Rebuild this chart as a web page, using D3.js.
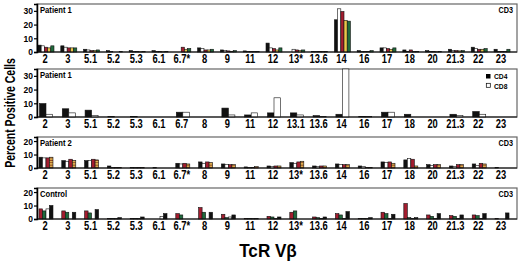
<!DOCTYPE html>
<html><head><meta charset="utf-8">
<script src="https://cdn.jsdelivr.net/npm/d3@7"></script>
<style>body{margin:0;background:#fff}svg{display:block}text{font-family:"Liberation Sans",Arial,Helvetica,sans-serif;font-weight:bold;fill:#000}</style>
</head><body><div id="chart"></div>
<script>
const catsA = ["2","3","5.1","5.2","5.3","6.1","6.7*","8","9","11","12","13*","13.6","14","16","17","18","20","21.3","22","23"];
const catsB = ["2","3","5.1","5.2","5.3","6.1","6.7","8","9","11","12","13.1","13.6","14","16","17","18","20","21.3","22","23"];
const yTicks1 = [0,10,20,30];
const yTicks2 = [0,10,20];

// Panel 1: Patient 1, CD3 (five samples)
const p1Black  = [5,4.5,2,1,1,1,0,3,1.5,0.8,6.5,0,0.5,23.5,1,3,1.5,1,2,3.5,2];
const p1White  = [4.5,3.5,1.5,0.3,0.5,0.3,0,2.5,1,0.5,3,2,0.5,31.5,0.5,3,0.5,0.3,1,2.5,0.5];
const p1Red    = [3.5,3,1,0,0.3,0.3,3.5,1.5,0.8,0.3,2.5,1.5,0.5,29.5,0.3,2.5,1.5,0.3,1,2,0.5];
const p1Yellow = [3,3,1,0,0.2,0.2,2,1.5,0.5,0.3,1.5,1,0.5,23,0.3,2,0.5,0.2,0.8,2,0.3];
const p1Green  = [4.5,3,1.5,0.3,0.3,0.5,2.5,2,1,0.5,3,1.5,0.5,22.5,1,3,0.5,0.3,1,2.5,2];
// Panel 2: Patient 1, CD4 / CD8
const p2CD4 = [9.8,6,5,0.3,0.5,0,3.5,0,6.5,1.5,3,3,1,2,0.5,3.5,2,0,2,4,0];
const p2CD8 = [2,3,1,0,0,0,3.5,0,1.5,3,14,1.5,0.5,35,0.3,3.5,0,0,1,2,0];
// Panel 3: Patient 2, CD3
const p3Black = [8,5.5,5.5,1.5,0.3,0.3,3.5,4.5,3,0.8,1.5,4,1.5,3,1.5,4.5,6,2.5,1.5,3,0.5];
const p3White = [7.5,5,5.5,0.5,0.3,0,3,3.5,2.5,0.5,1,3.5,1,2.5,1,4,7,2,1,2,0];
const p3Red   = [7.5,6.5,6.5,0.5,0.5,0,3.5,4.5,2.5,0.5,1.5,4.5,1.5,2.5,0.5,4.5,6.5,2.5,2.5,3.5,0];
const p3Hatch = [8,5.5,6,0.5,0.5,0,3,4,2.5,1,1.5,5,1.5,2.5,0.5,3.5,1.5,2.5,2.5,3,0];
// Panel 4: Control, CD3
const p4Red   = [7.5,6,6,0.3,0.5,0,4,8.5,3.5,0.5,2,5,1.5,4,0.5,5,11.5,3,2.5,3,0.3];
const p4Green = [6,5,4.5,0.3,0.5,0,3,5,1,0.3,1.5,6,1,3,0.3,4,1,2,2,2.5,0];
const p4White = [7.5,0,0,0.5,0.5,2,0,0,1.5,0.3,0.5,0,0.5,0.5,0.5,0.5,0.5,0.5,0.5,0.5,0];
const p4Black = [10,5,7,1,1.5,4,0,5,3,0.5,1.5,0,1.5,5.5,1,3.5,1,4,3,4,4.5];

const RED="#a31d2f", GREEN="#1f6a3c", YELLOW="#e9c64a", BLACK="#111", WHITE="#fff";

const panels = [
  {cats:catsA, title:"Patient 1", tag:"CD3", zero:52, top:4, dmax:35, ticks:yTicks1, gw:16,
   series:[[p1Black,BLACK],[p1White,WHITE],[p1Red,RED],[p1Yellow,YELLOW],[p1Green,GREEN]]},
  {cats:catsB, title:"Patient 1", tag:null, zero:117, top:69, dmax:35, ticks:yTicks1, gw:13, legend:true,
   series:[[p2CD4,BLACK],[p2CD8,WHITE]]},
  {cats:catsA, title:"Patient 2", tag:"CD3", zero:168, top:137, dmax:23, ticks:yTicks2, gw:14,
   series:[[p3Black,BLACK],[p3White,WHITE],[p3Red,RED],[p3Hatch,"url(#hatch)"]]},
  {cats:catsA, title:"Control", tag:"CD3", zero:219, top:188, dmax:23, ticks:yTicks2, gw:14,
   series:[[p4Red,RED],[p4Green,GREEN],[p4White,WHITE],[p4Black,BLACK]]}
];

const svg = d3.select("#chart").append("svg").attr("width",520).attr("height",263);
const defs = svg.append("defs");
const pat = defs.append("pattern").attr("id","hatch").attr("patternUnits","userSpaceOnUse").attr("width",4).attr("height",2.4);
pat.append("rect").attr("width",4).attr("height",2.4).attr("fill","#e8bf55");
pat.append("rect").attr("y",1.4).attr("width",4).attr("height",1).attr("fill","#8a3a1c");

function txt(g,x,y,s,size,anchor,sx){
  return g.append("text").attr("transform",`translate(${x},${y}) scale(${sx||0.8},1)`)
    .attr("text-anchor",anchor||"start").style("font-size",size+"px").text(s);
}

const L=37, R=517;
panels.forEach(p=>{
  const g = svg.append("g");
  const x = d3.scaleBand().domain(p.cats.map((c,i)=>i)).range([38,510]).paddingInner(0.3).paddingOuter(0);
  const y = d3.scaleLinear().domain([0,p.dmax]).range([p.zero,p.top]);
  g.append("rect").attr("x",L).attr("y",p.top).attr("width",R-L).attr("height",p.zero-p.top)
    .attr("fill","none").attr("stroke","#666").attr("stroke-width",1.2);
  const inner = d3.scaleBand().domain(d3.range(p.series.length)).range([0,p.gw]);
  p.series.forEach((s,si)=>{
    g.selectAll(null).data(s[0]).enter().append("rect")
      .attr("x",(d,i)=>x(i)+x.bandwidth()/2-p.gw/2+inner(si))
      .attr("y",d=>y(d)).attr("width",inner.bandwidth()).attr("height",d=>p.zero-y(d))
      .attr("fill",s[1]).attr("stroke","#111").attr("stroke-width",0.6);
  });
  g.append("line").attr("x1",L).attr("x2",R).attr("y1",p.zero).attr("y2",p.zero).attr("stroke","#111").attr("stroke-width",1.2);
  const ax = g.append("g").attr("transform",`translate(${L},0)`)
    .call(d3.axisLeft(y).tickValues(p.ticks).tickSize(3).tickPadding(1).tickFormat(d3.format("d")));
  ax.select(".domain").attr("stroke","#000").attr("stroke-width",1.5);
  ax.selectAll(".tick line").attr("stroke","#000").attr("stroke-width",1.2);
  ax.selectAll(".tick text").style("font-size","8.5px").style("font-family","Liberation Sans, Arial").style("font-weight","bold").attr("dy","0.35em");
  p.cats.forEach((c,i)=>{ txt(g, x(i)+x.bandwidth()/2-1, p.zero+11, c, 12, "middle", 0.78); });
  txt(g, L+3, p.top+9, p.title, 9, "start", 0.85);
  if(p.tag) txt(g, R-4, p.top+9, p.tag, 8.5, "end", 0.85);
  if(p.legend){
    g.append("rect").attr("x",486).attr("y",p.top+5).attr("width",4.5).attr("height",4.5).attr("fill","#000");
    g.append("rect").attr("x",486.3).attr("y",p.top+14.3).attr("width",4).attr("height",4).attr("fill","#fff").attr("stroke","#000").attr("stroke-width",0.7);
    txt(g, 494, p.top+10, "CD4", 7.5, "start", 0.9);
    txt(g, 494, p.top+19.5, "CD8", 7.5, "start", 0.9);
  }
});

svg.append("text").attr("transform","translate(15,113) rotate(-90) scale(0.75,1)")
  .attr("text-anchor","middle").style("font-size","14px").text("Percent Positive Cells");
const t = svg.append("text").attr("transform","translate(268,257) scale(0.9,1)").attr("text-anchor","middle").style("font-size","19px");
t.append("tspan").text("TcR  V");
t.append("tspan").text("β");
</script></body></html>
